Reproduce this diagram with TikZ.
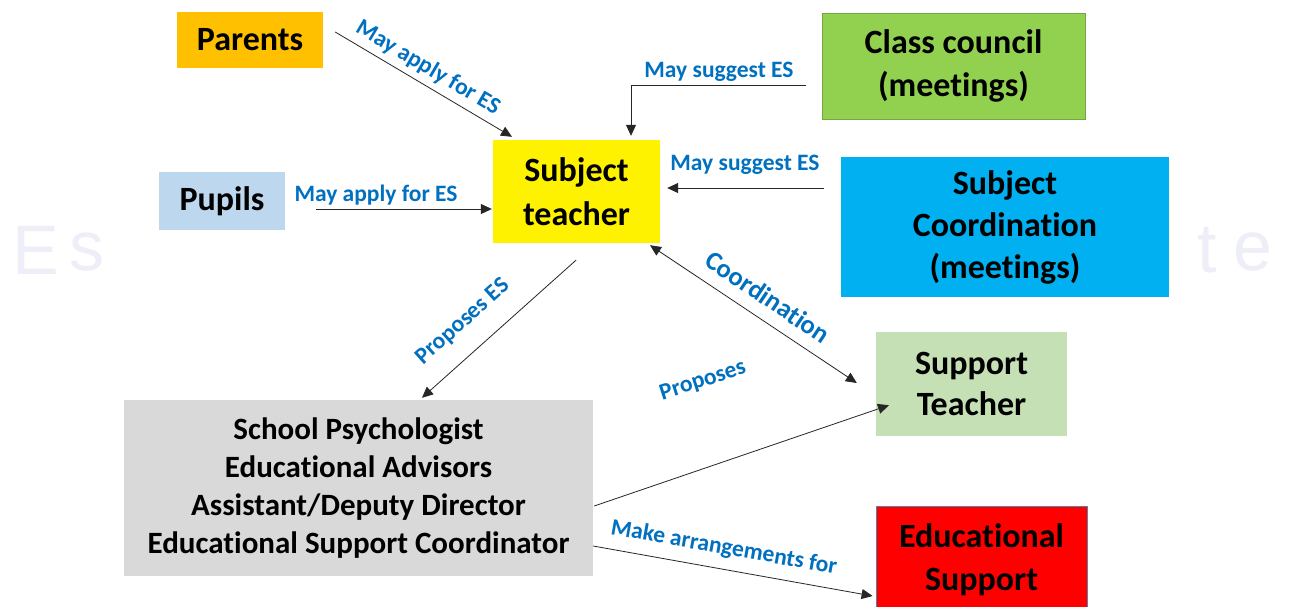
\documentclass[tikz,border=0pt]{standalone}
\usepackage{fontspec}
\setmainfont[RawFeature={-liga}]{Carlito}
\newfontfamily\wmfont{Liberation Sans}
\usetikzlibrary{arrows.meta}
\definecolor{lblue}{HTML}{0070C0}
\definecolor{orangeP}{HTML}{FFC000}
\definecolor{pupilblue}{HTML}{BDD7EE}
\definecolor{ccgreen}{HTML}{92D050}
\definecolor{sccyan}{HTML}{00B0F0}
\definecolor{supgreen}{HTML}{C5E0B4}
\definecolor{greybox}{HTML}{D9D9D9}
\definecolor{wm}{HTML}{EEEEF8}
\definecolor{esborder}{HTML}{5A7FA8}
\tikzset{
  box/.style={inner sep=0pt, align=center, font=\bfseries\fontsize{34}{43}\selectfont},
  arr/.style={draw=black!85, line width=0.8pt, -{Triangle[length=11pt,width=10pt]}},
  darr/.style={draw=black!85, line width=0.8pt, {Triangle[length=11pt,width=10pt]}-{Triangle[length=11pt,width=10pt]}},
  lbl/.style={text=lblue, inner sep=0pt, font=\bfseries\fontsize{23.5}{26}\selectfont},
  wmark/.style={text=wm, inner sep=0pt, font=\wmfont\fontsize{70}{70}\selectfont}
}
\begin{document}
\begin{tikzpicture}[x=1pt,y=-1pt]
\useasboundingbox (0,0) rectangle (1290,606);
\clip (0,0) rectangle (1290,606);
\fill[white] (0,0) rectangle (1290,606);
% watermark
\node[wmark] (w1) at (36,250) {E};
\node[wmark] (w2) at (87,252) {s};
\node[wmark] (w3) at (1207,250) {t};
\node[wmark] (w4) at (1253,252) {e};
% boxes
\node[box, fill=orangeP, minimum width=146, minimum height=56] (parents) at (250,40) {Parents};
\node[box, fill=pupilblue, minimum width=126, minimum height=58] (pupils) at (222,201) {Pupils};
\node[box, fill=yellow, minimum width=167, minimum height=103, font=\bfseries\fontsize{34}{44}\selectfont] (st) at (576.5,191.5) {Subject\\teacher};
\node[box, fill=ccgreen, draw=ccgreen!80!black, line width=0.6pt, minimum width=263, minimum height=106] (cc) at (953.5,66) {Class council\\(meetings)};
\node[box, fill=sccyan, minimum width=328, minimum height=140, font=\bfseries\fontsize{34}{42}\selectfont] (sc) at (1005,227) {Subject\\Coordination\\(meetings)};
\node[box, fill=supgreen, minimum width=191, minimum height=104, font=\bfseries\fontsize{34}{41}\selectfont] (sup) at (971.5,384) {Support\\Teacher};
\node[box, fill=greybox, minimum width=469, minimum height=176, font=\bfseries\fontsize{31}{38}\selectfont] (grey) at (358.5,488) {School Psychologist\\Educational Advisors\\Assistant/Deputy Director\\Educational Support Coordinator};
\node[box, fill=red, draw=esborder, line width=0.8pt, minimum width=211, minimum height=110] (es) at (981.5,561) {};
\node[box] (estext) at (981.5,560) {Educational\\Support};
% connectors
\draw[arr] ([shift={(12,-8)}]parents.east) -- ([shift={(-64.5,-3)}]st.north);
\draw[arr] ([shift={(-16,19)}]cc.west) -| ([shift={(54.5,-4)}]st.north);
\draw[arr] ([shift={(31,8)}]pupils.east) -- ([shift={(-1,17.5)}]st.west);
\draw[arr] ([shift={(-17,-39)}]sc.west) -- ([shift={(7,-3.5)}]st.east);
\draw[darr] ([shift={(73.5,2)}]st.south) -- ([shift={(-19,-1)}]sup.west);
\draw[arr] ([shift={(-0.5,17)}]st.south) -- ([shift={(63.5,-2)}]grey.north);
\draw[arr] ([shift={(1,18)}]grey.east) -- ([shift={(-82.5,-31)}]sup.south);
\draw[arr] ([shift={(0,58)}]grey.east) -- ([shift={(-3,35)}]es.west);
% labels
\node[lbl, rotate=-30.7] (l1) at (428,68) {May apply for ES};
\node[lbl] (l2) at (719,72) {May suggest ES};
\node[lbl] (l3) at (376,195) {May apply for ES};
\node[lbl] (l4) at (745,165) {May suggest ES};
\node[lbl, rotate=-34, font=\bfseries\fontsize{26.5}{28}\selectfont] (l5) at (768,297) {Coordination};
\node[lbl, rotate=41.9] (l6) at (463,322) {Proposes ES};
\node[lbl, rotate=18] (l7) at (703,381) {Proposes};
\node[lbl, rotate=-10] (l8) at (724,548) {Make arrangements for};
\end{tikzpicture}
\end{document}
